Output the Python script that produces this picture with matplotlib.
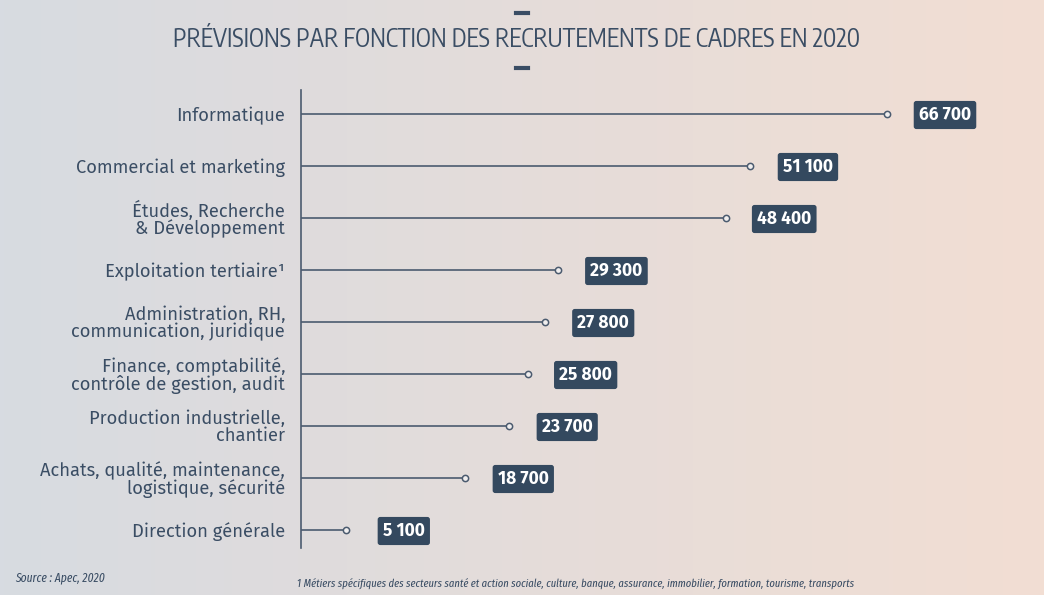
import matplotlib
matplotlib.use("Agg")
import matplotlib.pyplot as plt
import numpy as np

categories = [
    "Informatique",
    "Commercial et marketing",
    "Études, Recherche\n& Développement",
    "Exploitation tertiaire¹",
    "Administration, RH,\ncommunication, juridique",
    "Finance, comptabilité,\ncontrôle de gestion, audit",
    "Production industrielle,\nchantier",
    "Achats, qualité, maintenance,\nlogistique, sécurité",
    "Direction générale",
]
values = [66700, 51100, 48400, 29300, 27800, 25800, 23700, 18700, 5100]
value_labels = ["66 700", "51 100", "48 400", "29 300", "27 800", "25 800", "23 700", "18 700", "5 100"]

title = "PRÉVISIONS PAR FONCTION DES RECRUTEMENTS DE CADRES EN 2020"
source = "Source : Apec, 2020"
footnote = "1 Métiers spécifiques des secteurs santé et action sociale, culture, banque, assurance, immobilier, formation, tourisme, transports"

F_LABEL = ["Fira Sans", "DejaVu Sans"]
F_TITLE = ["Encode Sans Condensed", "DejaVu Sans"]
F_BOX = ["Fira Sans", "DejaVu Sans"]
F_FOOT = ["Fira Sans Extra Condensed", "DejaVu Sans"]

W, H = 1044, 595
fig = plt.figure(figsize=(W / 100, H / 100), dpi=100)

bg = fig.add_axes([0, 0, 1, 1], zorder=-10)
left_c = np.array([215, 219, 225]) / 255
right_c = np.array([242, 222, 211]) / 255
t = np.linspace(0, 1, 256)
grad = left_c[None, :] * (1 - t[:, None]) + right_c[None, :] * t[:, None]
bg.imshow(grad[None, :, :], aspect="auto", extent=[0, 1, 0, 1])
bg.set_axis_off()

dark = "#3a4d64"

x0, x1 = 301, 1000
ytop, ybot = 90, 548
ax = fig.add_axes([x0 / W, 1 - ybot / H, (x1 - x0) / W, (ybot - ytop) / H])
ax.set_facecolor("none")
px_per_unit = (887 - 301) / 66700
ax.set_xlim(0, (x1 - x0) / px_per_unit)
row = 52
ax.set_ylim(8 + (ybot - 530) / row, -(114 - ytop) / row)

ypos = np.arange(len(categories))
ax.hlines(ypos, 0, values, color="#4b5b6f", lw=1.2)
ax.plot(values, ypos, "o", ms=4.5, mfc="#f0eeee", mec="#4b5b6f", mew=1.1)

for v, y, lab in zip(values, ypos, value_labels):
    ax.annotate(lab, (v, y), xytext=(58, -1), textcoords="offset pixels",
                ha="center", va="center", color="white", fontsize=12.5, fontweight="bold",
                family=F_BOX,
                bbox=dict(boxstyle="round,pad=0.3,rounding_size=0.15", fc="#34495f", ec="none"))

for s in ["top", "right", "bottom"]:
    ax.spines[s].set_visible(False)
ax.spines["left"].set_color("#4b5b6f")
ax.spines["left"].set_linewidth(1.2)
ax.set_xticks([])
ax.set_yticks(ypos)
ax.set_yticklabels(categories, fontsize=13.2, color=dark, linespacing=0.92, family=F_LABEL)
ax.tick_params(axis="y", length=0, pad=11.5)

fig.text(517 / W, 1 - 40 / H, title, ha="center", va="center", fontsize=17.7, color=dark, family=F_TITLE)
for yy in (13, 68):
    fig.add_artist(plt.Line2D([516 / W, 528 / W], [1 - yy / H, 1 - yy / H], color=dark, lw=3))

fig.text(15 / W, 1 - 578 / H, source, ha="left", va="center", fontsize=9, style="italic", color=dark, family=F_FOOT)
fig.text(576 / W, 1 - 584 / H, footnote, ha="center", va="center", fontsize=8.25, style="italic", color=dark, family=F_FOOT)

fig.savefig("out.png", dpi=100)
